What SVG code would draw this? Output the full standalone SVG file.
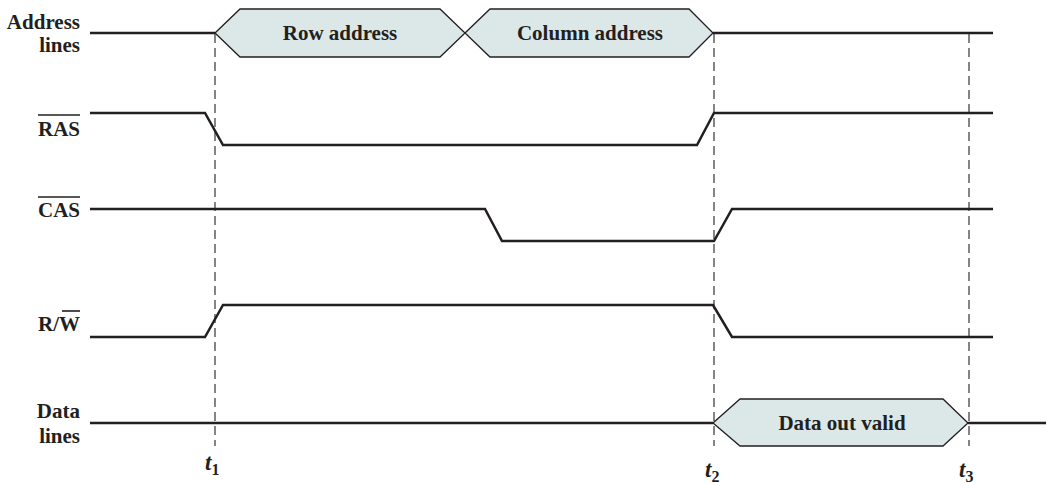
<svg xmlns="http://www.w3.org/2000/svg" width="1047" height="483" viewBox="0 0 1047 483">
<style>
.lbl{font-family:"Liberation Serif","Times New Roman",serif;font-weight:bold;font-size:21px;fill:#231f20}
.sig{fill:none;stroke:#231f20;stroke-width:2.5;stroke-linejoin:miter}
.hex{fill:#dbe8e7;stroke:#231f20;stroke-width:1.3}
.dash{stroke:#444;stroke-width:1.3;stroke-dasharray:9,5;fill:none}
.ol{stroke:#231f20;stroke-width:1.6}
.tl{font-family:"Liberation Serif","Times New Roman",serif;font-weight:bold;font-style:italic;font-size:23px;fill:#231f20}
.sub{font-style:normal;font-size:16px}
</style>
<rect width="1047" height="483" fill="#fff"/>
<g id="labels">
<text class="lbl" x="80" y="29" text-anchor="end">Address</text>
<text class="lbl" x="80" y="52" text-anchor="end">lines</text>
<text class="lbl" x="80" y="136" text-anchor="end">RAS</text>
<line class="ol" x1="38" y1="115" x2="80" y2="115"/>
<text class="lbl" x="80" y="217" text-anchor="end">CAS</text>
<line class="ol" x1="38" y1="197" x2="80" y2="197"/>
<text class="lbl" x="80" y="331" text-anchor="end">R/W</text>
<line class="ol" x1="62" y1="311" x2="80" y2="311"/>
<text class="lbl" x="80" y="418" text-anchor="end">Data</text>
<text class="lbl" x="80" y="443" text-anchor="end">lines</text>
</g>
<g id="connectors">
<line class="dash" x1="215" y1="34" x2="215" y2="446"/>
<line class="dash" x1="714" y1="34" x2="714" y2="446"/>
<line class="dash" x1="969" y1="34" x2="969" y2="446"/>
<polyline class="sig" points="90,33 215,33"/>
<polyline class="sig" points="713,33 993,33"/>
<polyline class="sig" points="90,113 205,113 223,145 697,145 714,113 993,113"/>
<polyline class="sig" points="90,209 485,209 502,241 714,241 732,209 993,209"/>
<polyline class="sig" points="90,337 205,337 223,305 713,305 732,337 993,337"/>
<polyline class="sig" points="90,423 713,423"/>
<polyline class="sig" points="968,423 1046,423"/>
</g>
<g id="row-address">
<polygon class="hex" points="215,33 240,9 440,9 465,33 440,57 240,57"/>
<text class="lbl" x="340" y="40" text-anchor="middle">Row address</text>
</g>
<g id="column-address">
<polygon class="hex" points="465,33 490,9 689,9 713,33 689,57 490,57"/>
<text class="lbl" x="590" y="40" text-anchor="middle">Column address</text>
</g>
<g id="data-out-valid">
<polygon class="hex" points="713,423 740,399 943,399 968,423 943,446 740,446"/>
<text class="lbl" x="842" y="430" text-anchor="middle">Data out valid</text>
</g>
<g id="times">
<text class="tl" x="205" y="470">t<tspan class="sub" dy="5">1</tspan></text>
<text class="tl" x="705" y="477">t<tspan class="sub" dy="5">2</tspan></text>
<text class="tl" x="959" y="477">t<tspan class="sub" dy="5">3</tspan></text>
</g>
</svg>
